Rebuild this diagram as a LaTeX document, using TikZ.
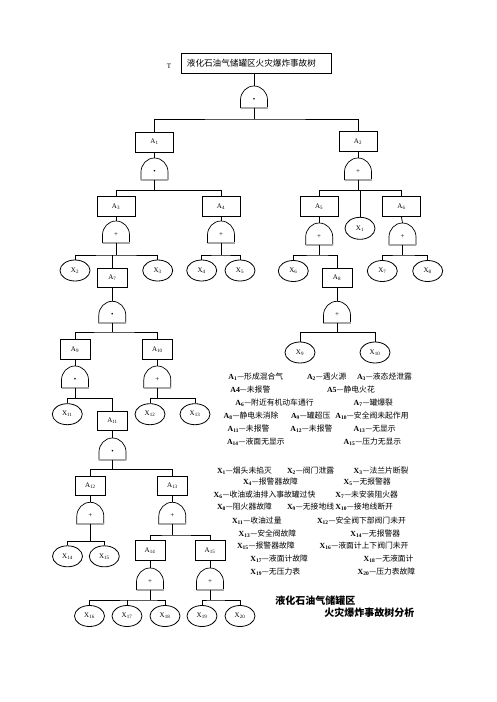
\documentclass[tikz,border=0pt]{standalone}
\usepackage{fontspec}
\setmainfont{Liberation Serif}
\newfontfamily\cjk{Noto Sans CJK SC}
\usetikzlibrary{shapes.geometric}
\newcommand{\lsub}[1]{\textsubscript{#1}}
\newcommand{\LA}[1]{{\rmfamily\bfseries A\lsub{#1}}}
\newcommand{\LX}[1]{{\rmfamily\bfseries X\lsub{#1}}}
\newcommand{\BA}[1]{A\lsub{#1}}
\newcommand{\BX}[1]{X\lsub{#1}}
\tikzset{
  box/.style={draw, rectangle, minimum width=30pt, minimum height=19pt, inner sep=0pt, font=\fontsize{7}{8}\selectfont},
  wbox/.style={box, minimum width=38pt, minimum height=20pt},
  evt/.style={draw, ellipse, minimum width=30pt, minimum height=21pt, inner sep=0pt, font=\fontsize{7}{8}\selectfont},
  leg/.style={anchor=base west, inner sep=0pt, font=\fontsize{7.8}{9}\selectfont\cjk},
  ttl/.style={anchor=base west, inner sep=0pt, font=\fontsize{10}{11}\selectfont\cjk\bfseries},
  pics/gate/.style={code={
    \draw[black, line width=0.7pt] (-13.5,0) -- (-13.5,-8) arc[start angle=180, end angle=360, x radius=13.5, y radius=14] -- (13.5,0);
    \draw[gray!70, line width=1.8pt] (-13.5,0) -- (13.5,0);
    \node[font=\fontsize{7}{8}\selectfont, inner sep=0pt] at (0,-8.5) {#1};
    \coordinate (-top) at (0,-22);
    \coordinate (-bot) at (0,0);
  }}
}
\begin{document}
\begin{tikzpicture}[x=1pt, y=-1pt, line width=0.8pt]
\useasboundingbox (0,0) rectangle (496,702);
% top
\node[inner sep=0pt, font=\fontsize{7}{8}\selectfont] (Tlab) at (169,66) {T};
\node[draw, minimum width=150pt, minimum height=20.5pt, inner xsep=6pt, inner ysep=0pt, text width=138pt, align=left, font=\fontsize{8.6}{9}\selectfont\cjk] (Tbox) at (255.9,63.3) {液化石油气储罐区火灾爆炸事故树};
\pic (gT) at (254,108) {gate=•};
\draw (gT-top) -- (gT-top |- Tbox.south);
\coordinate (jT) at (254,119);
\draw (gT-bot) -- (jT);

% level 1
\node[wbox] (A1) at (154.5,142) {\BA{1}};
\node[wbox] (A2) at (358,141.7) {\BA{2}};
\draw (A1.north) |- (jT) -| (A2.north);

% A1 branch
\pic (gA1) at (154.5,180) {gate=•};
\draw (A1.south) -- (gA1-top);
\coordinate (jA1) at (154.5,190.5);
\draw (gA1-bot) -- (jA1);
\node[wbox] (A3) at (116,206.5) {\BA{3}};
\node[wbox] (A4) at (221,206.5) {\BA{4}};
\draw (A3.north) |- (jA1) -| (A4.north);

\pic (gA3) at (116,243) {gate=+};
\draw (A3.south) -- (gA3-top);
\coordinate (jA3) at (116,255);
\draw (gA3-bot) -- (jA3);
\node[evt] (X2) at (75,270.5) {\BX{2}};
\node[box] (A7) at (112.3,277.5) {\BA{7}};
\node[evt] (X3) at (157.7,270.5) {\BX{3}};
\draw (X2.north) |- (jA3) -| (X3.north);
\draw (A7.north) -- (A7.north |- jA3);

\pic (gA4) at (221,243) {gate=+};
\draw (A4.south) -- (gA4-top);
\coordinate (jA4) at (221,255);
\draw (gA4-bot) -- (jA4);
\node[evt] (X4) at (201.7,270.5) {\BX{4}};
\node[evt] (X5) at (240,270.5) {\BX{5}};
\draw (X4.north) |- (jA4) -| (X5.north);

\pic (gA7) at (112.3,323.3) {gate=•};
\draw (A7.south) -- (gA7-top);
\coordinate (jA7) at (112.3,332);
\draw (gA7-bot) -- (jA7);
\node[box, minimum height=20pt] (A9) at (75,349.3) {\BA{9}};
\node[box, minimum height=20pt] (A10) at (157.3,349.3) {\BA{10}};
\draw (A9.north) |- (jA7) -| (A10.north);

\pic (gA9) at (75,388) {gate=•};
\draw (A9.south) -- (gA9-top);
\coordinate (jA9) at (75,398.3);
\draw (gA9-bot) -- (jA9);
\node[evt] (X11) at (67.3,414.2) {\BX{11}};
\node[box] (A11) at (112.5,420.5) {\BA{11}};
\draw (X11.north) |- (jA9) -| (A11.north);

\pic (gA10) at (157.3,388) {gate=+};
\draw (A10.south) -- (gA10-top);
\coordinate (jA10) at (157.3,398.3);
\draw (gA10-bot) -- (jA10);
\node[evt] (X12) at (150,414.2) {\BX{12}};
\node[evt] (X13) at (195,414.2) {\BX{13}};
\draw (X12.north) |- (jA10) -| (X13.north);

\pic (gA11) at (112.5,460) {gate=•};
\draw (A11.south) -- (gA11-top);
\coordinate (jA11) at (112.5,469.3);
\draw (gA11-bot) -- (jA11);
\node[box, minimum height=18.5pt] (A12) at (90.3,486) {\BA{12}};
\node[box, minimum height=18.5pt] (A13) at (172.3,486) {\BA{13}};
\draw (A12.north) |- (jA11) -| (A13.north);

\pic (gA12) at (90.3,524.3) {gate=+};
\draw (A12.south) -- (gA12-top);
\coordinate (jA12) at (90.3,541.7);
\draw (gA12-bot) -- (jA12);
\node[evt] (X14) at (67.5,556.3) {\BX{14}};
\node[evt] (X15) at (104.3,556.3) {\BX{15}};
\draw (X14.north) |- (jA12) -| (X15.north);

\pic (gA13) at (172.3,524.3) {gate=+};
\draw (A13.south) -- (gA13-top);
\coordinate (jA13) at (172.3,535);
\draw (gA13-bot) -- (jA13);
\node[box, minimum height=19.5pt] (A14) at (150,550.3) {\BA{14}};
\node[box, minimum height=19.5pt] (A15) at (210,550.3) {\BA{15}};
\draw (A14.north) |- (jA13) -| (A15.north);

\pic (gA14) at (150,590) {gate=+};
\draw (A14.south) -- (gA14-top);
\coordinate (jA14) at (150,600);
\draw (gA14-bot) -- (jA14);
\node[evt] (X16) at (89.5,616) {\BX{16}};
\node[evt] (X17) at (127,616) {\BX{17}};
\node[evt] (X18) at (165,616) {\BX{18}};
\draw (X16.north) |- (jA14) -| (X18.north);
\draw (X17.north) -- (X17.north |- jA14);

\pic (gA15) at (210,590) {gate=+};
\draw (A15.south) -- (gA15-top);
\coordinate (jA15) at (210,600);
\draw (gA15-bot) -- (jA15);
\node[evt] (X19) at (202,616) {\BX{19}};
\node[evt] (X20) at (240,616) {\BX{20}};
\draw (X19.north) |- (jA15) -| (X20.north);

% A2 branch
\pic (gA2) at (358,180) {gate=+};
\draw (A2.south) -- (gA2-top);
\coordinate (jA2) at (358,190.7);
\draw (gA2-bot) -- (jA2);
\node[wbox] (A5) at (319.2,206.7) {\BA{5}};
\node[evt, minimum height=22pt] (X1) at (360,228.3) {\BX{1}};
\node[wbox] (A6) at (401.5,206.7) {\BA{6}};
\draw (A5.north) |- (jA2) -| (A6.north);
\draw (X1.north) -- (X1.north |- jA2);

\pic (gA5) at (319.2,245) {gate=+};
\draw (A5.south) -- (gA5-top);
\coordinate (jA5) at (319.2,255);
\draw (gA5-bot) -- (jA5);
\node[evt] (X6) at (293.3,271) {\BX{6}};
\node[box] (A8) at (337,277.5) {\BA{8}};
\draw (X6.north) |- (jA5) -| (A8.north);

\pic (gA6) at (402.5,245) {gate=+};
\draw (A6.south) -- (gA6-top);
\coordinate (jA6) at (402.5,255);
\draw (gA6-bot) -- (jA6);
\node[evt] (X7) at (382.3,271) {\BX{7}};
\node[evt] (X8) at (427.7,271) {\BX{8}};
\draw (X7.north) |- (jA6) -| (X8.north);

\pic (gA8) at (337,323.3) {gate=+};
\draw (A8.south) -- (gA8-top);
\coordinate (jA8) at (337,332.7);
\draw (gA8-bot) -- (jA8);
\node[evt] (X9) at (300,352.5) {\BX{9}};
\node[evt] (X10) at (375,352.5) {\BX{10}};
\draw (X9.north) |- (jA8) -| (X10.north);

% legend A
\node[leg] (la1) at (228,379) {\LA{1}—形成混合气};
\node[leg] (la2) at (306.7,379) {\LA{2}—遇火源};
\node[leg] (la3) at (356.7,379) {\LA{3}—液态烃泄露};
\node[leg] (la4) at (230,392) {{\rmfamily\bfseries A4}—未报警};
\node[leg] (la5) at (326.7,392) {{\rmfamily\bfseries A5}—静电火花};
\node[leg] (la6) at (235,405) {\LA{6}—附近有机动车通行};
\node[leg] (la7) at (353.3,405) {\LA{7}—罐爆裂};
\node[leg] (la8) at (223.3,418.5) {\LA{8}—静电未消除};
\node[leg] (la9) at (290.7,418.5) {\LA{9}—罐超压};
\node[leg] (la10) at (335,418.5) {\LA{10}—安全阀未起作用};
\node[leg] (la11) at (227.3,431.5) {\LA{11}—未报警};
\node[leg] (la12) at (290,431.5) {\LA{12}—未报警};
\node[leg] (la13) at (353.3,431.5) {\LA{13}—无显示};
\node[leg] (la14) at (226.7,444.5) {\LA{14}—液面无显示};
\node[leg] (la15) at (343.3,444.5) {\LA{15}—压力无显示};

% legend X
\node[leg] (lx1) at (216.7,473) {\LX{1}—烟头未掐灭};
\node[leg] (lx2) at (286.7,473) {\LX{2}—阀门泄露};
\node[leg] (lx3) at (353.3,473) {\LX{3}—法兰片断裂};
\node[leg] (lx4) at (242.7,484.7) {\LX{4}—报警器故障};
\node[leg] (lx5) at (343.3,484.7) {\LX{5}—无报警器};
\node[leg] (lx6) at (213.3,497.3) {\LX{6}—收油或油排入事故罐过快};
\node[leg] (lx7) at (335,497.3) {\LX{7}—未安装阻火器};
\node[leg] (lx8) at (216.7,509.7) {\LX{8}—阻火器故障};
\node[leg] (lx9) at (286.7,509.7) {\LX{9}—无接地线};
\node[leg] (lx10) at (335,509.7) {\LX{10}—接地线断开};
\node[leg] (lx11) at (231.7,523) {\LX{11}—收油过量};
\node[leg] (lx12) at (316.7,523) {\LX{12}—安全阀下部阀门未开};
\node[leg] (lx13) at (238.3,536.3) {\LX{13}—安全阀故障};
\node[leg] (lx14) at (350,536.3) {\LX{14}—无报警器};
\node[leg] (lx15) at (236.7,548) {\LX{15}—报警器故障};
\node[leg] (lx16) at (319.3,548) {\LX{16}—液面计上下阀门未开};
\node[leg] (lx17) at (250,561.3) {\LX{17}—液面计故障};
\node[leg] (lx18) at (363.3,561.3) {\LX{18}—无液面计};
\node[leg] (lx19) at (250,574) {\LX{19}—无压力表};
\node[leg] (lx20) at (357.3,574) {\LX{20}—压力表故障};

% title
\node[ttl] (t1) at (275,604) {液化石油气储罐区};
\node[ttl] (t2) at (324,616.5) {火灾爆炸事故树分析};
\end{tikzpicture}
\end{document}
